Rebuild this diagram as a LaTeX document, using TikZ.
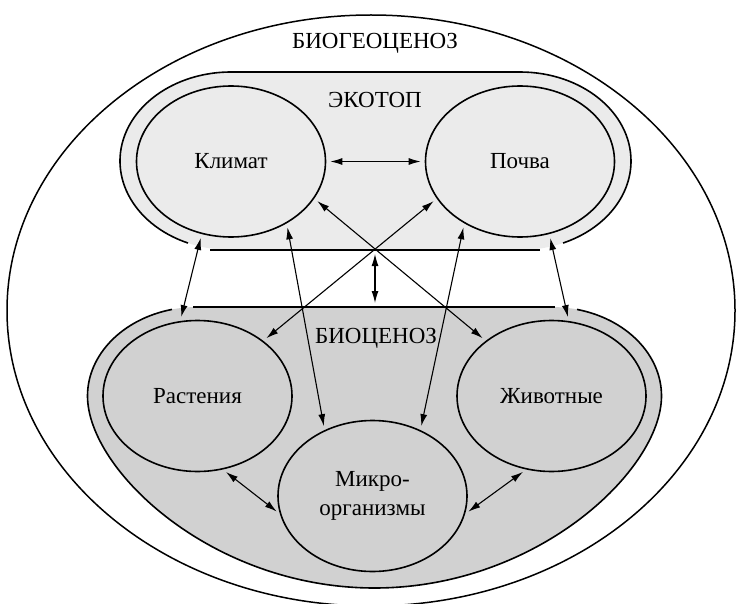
\documentclass[tikz,border=0pt]{standalone}
\usepackage{fontspec}
\setmainfont{Liberation Serif}
\usetikzlibrary{arrows.meta,shapes.geometric}

\begin{document}
\begin{tikzpicture}[x=1pt,y=-1pt,font=\fontsize{23}{29}\selectfont,
  unit/.style={ellipse,draw=black,line width=1.6pt,minimum width=189pt,minimum height=151pt,inner sep=0pt,align=center},
  link/.style={<->,>={Latex[length=12pt,width=7pt]},line width=1.1pt,shorten <=4pt,shorten >=4pt},
  rim/.style={draw=black,line width=1.6pt}]
\useasboundingbox (0,0) rectangle (738,604);
% outer ellipse
\node[ellipse,draw=black,line width=1.5pt,minimum width=728pt,minimum height=591pt,inner sep=0pt] (biogeo) at (371,310.5) {};
\node (biogeoT) at (375,43) {БИОГЕОЦЕНОЗ};
% ecotope
\fill[black!8] (231,72) -- (520,72) arc[start angle=-90,end angle=90,x radius=111,y radius=89] -- (231,250) arc[start angle=90,end angle=270,x radius=111,y radius=89] -- cycle;
\draw[rim] (231,161) ++(112.8:111 and 89) arc[start angle=112.8,end angle=270,x radius=111,y radius=89] -- (520,72) arc[start angle=-90,end angle=67.2,x radius=111,y radius=89];
\draw[rim] (210,250) -- (540,250);
\node (ekotopT) at (375,100) {ЭКОТОП};
% biocenosis
\fill[black!18] (197.5,307) arc[start angle=270,end angle=180,x radius=110,y radius=89] .. controls (87.5,470) and (212,588) .. (374.5,588) .. controls (537,588) and (661.5,470) .. (661.5,396) arc[start angle=0,end angle=-90,x radius=110,y radius=89] -- cycle;
\draw[rim] (197.5,396) ++(256.6:110 and 89) arc[start angle=256.6,end angle=180,x radius=110,y radius=89] .. controls (87.5,470) and (212,588) .. (374.5,588) .. controls (537,588) and (661.5,470) .. (661.5,396) arc[start angle=0,end angle=-76.6,x radius=110,y radius=89];
\draw[rim] (193,307) -- (555,307);
% units
\node[unit,fill=black!8] (klimat) at (231,161.5) {Климат};
\node[unit,fill=black!8] (pochva) at (520,161.5) {Почва};
\node[unit,fill=black!18] (rast) at (197.5,396) {Растения};
\node[unit,fill=black!18] (zhiv) at (551.5,396) {Животные};
\node[unit,fill=black!18] (mikro) at (372.5,496) {Микро-\\организмы};
\node (biocenT) at (376,338) {БИОЦЕНОЗ};
% links
\coordinate (ekoB) at (375,250);
\coordinate (bioT) at (375,307);
\draw[link] (ekoB) -- (bioT);
\draw[link] (klimat.east) -- (pochva.west);
\draw[link] (klimat.248) -- (rast.103);
\draw[link] (pochva.292) -- (zhiv.77);
\draw[link] (klimat.312) -- (mikro.126);
\draw[link] (pochva.228) -- (mikro.54);
\draw[link] (klimat.336) -- (zhiv.140);
\draw[link] (pochva.204) -- (rast.40);
\draw[link] (rast.289) -- (mikro.191);
\draw[link] (zhiv.251) -- (mikro.349);
\end{tikzpicture}
\end{document}
